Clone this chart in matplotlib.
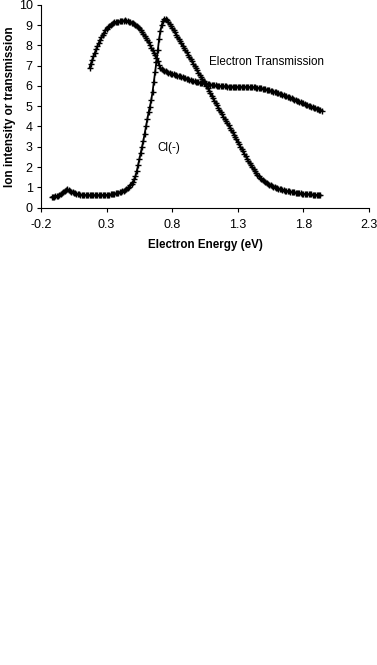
import matplotlib
matplotlib.use('Agg')
import matplotlib.pyplot as plt
import numpy as np

plt.rcParams['font.family'] = ['Liberation Sans', 'DejaVu Sans']

# Cl(-) ion yield, sampled every 0.01 eV starting at -0.12 eV
cl_start = -0.12
cl_signal = [
    0.52, 0.53, 0.55, 0.56, 0.58, 0.60, 0.62, 0.65, 0.70, 0.76,
    0.83, 0.89, 0.92, 0.88, 0.83, 0.79, 0.75, 0.72, 0.70, 0.68,
    0.66, 0.65, 0.64, 0.63, 0.63, 0.62, 0.62, 0.62, 0.61, 0.61,
    0.61, 0.61, 0.61, 0.61, 0.61, 0.61, 0.61, 0.62, 0.62, 0.62,
    0.62, 0.63, 0.63, 0.64, 0.64, 0.65, 0.66, 0.67, 0.68, 0.70,
    0.71, 0.73, 0.75, 0.78, 0.81, 0.84, 0.88, 0.92, 0.97, 1.03,
    1.10, 1.18, 1.28, 1.40, 1.55, 1.80, 2.10, 2.40, 2.68, 2.98,
    3.30, 3.65, 4.00, 4.35, 4.70, 4.98, 5.30, 5.70, 6.20, 6.70,
    7.20, 7.75, 8.30, 8.70, 9.00, 9.20, 9.32, 9.30, 9.23, 9.15,
    9.06, 8.96, 8.86, 8.75, 8.64, 8.53, 8.42, 8.31, 8.20, 8.09,
    7.98, 7.87, 7.76, 7.65, 7.54, 7.43, 7.32, 7.21, 7.10, 6.99,
    6.88, 6.77, 6.66, 6.56, 6.45, 6.34, 6.24, 6.13, 6.01, 5.89,
    5.77, 5.64, 5.52, 5.40, 5.28, 5.16, 5.05, 4.93, 4.82, 4.71,
    4.60, 4.49, 4.38, 4.27, 4.16, 4.05, 3.94, 3.83, 3.71, 3.60,
    3.48, 3.37, 3.25, 3.13, 3.01, 2.89, 2.77, 2.65, 2.53, 2.42,
    2.30, 2.19, 2.08, 1.98, 1.89, 1.79, 1.70, 1.62, 1.54, 1.47,
    1.41, 1.35, 1.30, 1.25, 1.21, 1.17, 1.13, 1.10, 1.07, 1.04,
    1.01, 0.98, 0.96, 0.94, 0.92, 0.90, 0.88, 0.86, 0.84, 0.83,
    0.81, 0.80, 0.78, 0.77, 0.76, 0.75, 0.74, 0.73, 0.72, 0.71,
    0.70, 0.69, 0.68, 0.67, 0.67, 0.66, 0.66, 0.65, 0.65, 0.64,
    0.64, 0.63, 0.63, 0.63, 0.62, 0.62,
]

# electron transmission, sampled every 0.01 eV starting at 0.17 eV
et_start = 0.17
et_signal = [
    6.90, 7.10, 7.28, 7.46, 7.63, 7.80, 7.96, 8.12, 8.27, 8.40,
    8.52, 8.63, 8.73, 8.82, 8.90, 8.96, 9.02, 9.07, 9.11, 9.14,
    9.16, 9.17, 9.17, 9.18, 9.19, 9.20, 9.22, 9.24, 9.22, 9.20,
    9.17, 9.15, 9.12, 9.08, 9.04, 9.00, 8.96, 8.90, 8.83, 8.75,
    8.66, 8.57, 8.47, 8.37, 8.26, 8.14, 8.02, 7.89, 7.76, 7.63,
    7.50, 7.38, 7.22, 7.02, 6.90, 6.84, 6.79, 6.75, 6.72, 6.69,
    6.66, 6.63, 6.61, 6.59, 6.57, 6.55, 6.53, 6.50, 6.48, 6.47,
    6.45, 6.43, 6.40, 6.38, 6.35, 6.33, 6.30, 6.28, 6.26, 6.24,
    6.22, 6.20, 6.18, 6.17, 6.16, 6.15, 6.14, 6.13, 6.12, 6.10,
    6.08, 6.07, 6.06, 6.05, 6.04, 6.03, 6.02, 6.01, 6.00, 6.00,
    5.99, 5.99, 5.98, 5.98, 5.98, 5.97, 5.97, 5.97, 5.97, 5.97,
    5.96, 5.96, 5.96, 5.96, 5.96, 5.96, 5.96, 5.96, 5.96, 5.96,
    5.95, 5.95, 5.95, 5.95, 5.94, 5.94, 5.93, 5.92, 5.91, 5.90,
    5.89, 5.88, 5.87, 5.85, 5.83, 5.81, 5.80, 5.78, 5.76, 5.74,
    5.72, 5.70, 5.68, 5.66, 5.63, 5.61, 5.58, 5.56, 5.53, 5.51,
    5.48, 5.46, 5.43, 5.40, 5.38, 5.35, 5.33, 5.30, 5.27, 5.25,
    5.22, 5.19, 5.16, 5.14, 5.11, 5.08, 5.06, 5.03, 5.00, 4.98,
    4.95, 4.93, 4.90, 4.88, 4.85, 4.83, 4.80, 4.78,
]

x_ticks = [-0.2, 0.3, 0.8, 1.3, 1.8, 2.3]
y_ticks = list(range(0, 11))

step = 0.01
cl_energy = cl_start + step * np.arange(len(cl_signal))
et_energy = et_start + step * np.arange(len(et_signal))

fig = plt.figure(figsize=(3.77, 6.65), dpi=100)
ax = fig.add_axes([0.1088, 0.6877, 0.870, 0.3052])

style = dict(color='black', marker='+', markersize=5, markeredgewidth=1.0, linewidth=1.3)
ax.plot(cl_energy, cl_signal, **style)
ax.plot(et_energy, et_signal, **style)

ax.set_xlim(-0.2, 2.3)
ax.set_ylim(0, 10)
ax.set_xticks(x_ticks)
ax.set_xticklabels([f'{t:g}' for t in x_ticks])
ax.set_yticks(y_ticks)
ax.tick_params(direction='out', length=3, width=0.8, labelsize=9)
ax.tick_params(axis='x', pad=5)
ax.tick_params(axis='y', pad=3)
for side in ['top', 'right']:
    ax.spines[side].set_visible(False)
for side in ['left', 'bottom']:
    ax.spines[side].set_linewidth(0.8)

ax.set_xlabel('Electron Energy (eV)', fontsize=8.4, fontweight='bold', labelpad=6)
ax.set_ylabel('Ion intensity or transmission', fontsize=8.5, fontweight='bold', labelpad=2)

ax.text(1.08, 7.18, 'Electron Transmission', fontsize=8.4, va='center')
ax.text(0.685, 2.93, 'Cl(-)', fontsize=8.4, va='center')

fig.savefig('out.png', dpi=100)
